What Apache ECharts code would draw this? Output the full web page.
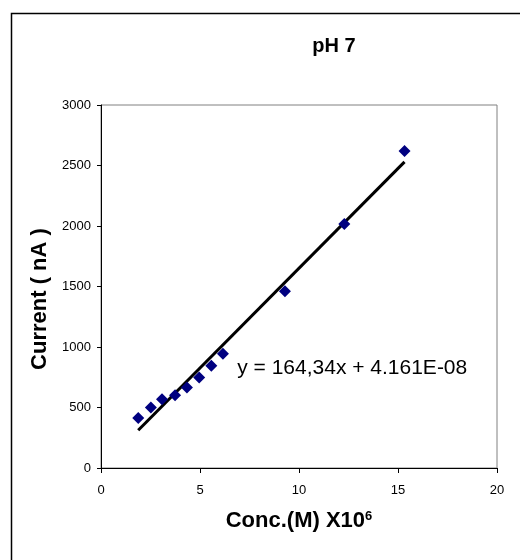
<!DOCTYPE html>
<html>
<head>
<meta charset="utf-8">
<script src="https://cdn.jsdelivr.net/npm/echarts@6/dist/echarts.min.js"></script>
<style>
  html, body { margin: 0; padding: 0; background: #fff; }
  #chart { width: 520px; height: 560px; }
</style>
</head>
<body>
<div id="chart"></div>
<script>
// concentration (M x10^6) and measured current (nA)
var concValues = [1.88, 2.52, 3.08, 3.74, 4.34, 4.96, 5.57, 6.16, 9.29, 12.29, 15.33];
var currentValues = [414, 500, 569, 602, 665, 748, 845, 944, 1460, 2017, 2619];
// linear trend line ends
var trendX = [1.88, 15.33];
var trendY = [312, 2530];
var eqText = 'y = 164,34x + 4.161E-08';
var eqPos = [6.88, 825];
var xTicks = [0, 20, 5];
var yTicks = [0, 3000, 500];

var FONT = '"Liberation Sans", Arial, Helvetica, sans-serif';

var points = concValues.map(function(x, i) { return [x, currentValues[i]]; });
var trend = trendX.map(function(x, i) { return [x, trendY[i]]; });

var chart = echarts.init(document.getElementById('chart'));
chart.setOption({
  animation: false,
  backgroundColor: '#fff',
  graphic: [
    {
      type: 'rect',
      shape: { x: 11.5, y: 13.5, width: 600, height: 600 },
      style: { fill: 'none', stroke: '#000', lineWidth: 1.5 },
      silent: true
    },
    {
      type: 'text',
      x: 334,
      y: 46,
      style: {
        text: 'pH 7',
        align: 'center',
        verticalAlign: 'middle',
        font: 'bold 20px ' + FONT,
        fill: '#000'
      }
    }
  ],
  grid: {
    left: 101,
    right: 23,
    top: 105,
    bottom: 92,
    show: true,
    borderColor: '#808080',
    borderWidth: 1
  },
  xAxis: {
    type: 'value',
    min: xTicks[0],
    max: xTicks[1],
    interval: xTicks[2],
    splitLine: { show: false },
    axisLine: { lineStyle: { color: '#000', width: 1 } },
    axisTick: { show: true, length: 5, lineStyle: { color: '#000' } },
    axisLabel: { color: '#000', fontSize: 13, fontFamily: FONT, margin: 16 },
    name: '{a|Conc.(M) X10}{b|6}',
    nameLocation: 'middle',
    nameGap: 42,
    nameTextStyle: {
      rich: {
        a: { fontSize: 22, fontWeight: 'bold', fontFamily: FONT, color: '#000' },
        b: { fontSize: 13, fontWeight: 'bold', fontFamily: FONT, color: '#000', verticalAlign: 'top', padding: [0, 0, 8, 0] }
      }
    }
  },
  yAxis: {
    type: 'value',
    min: yTicks[0],
    max: yTicks[1],
    interval: yTicks[2],
    splitLine: { show: false },
    axisLine: { show: true, lineStyle: { color: '#000', width: 1 } },
    axisTick: { show: true, length: 4, lineStyle: { color: '#000' } },
    axisLabel: {
      color: '#000', fontSize: 13, fontFamily: FONT, margin: 10,
      formatter: function(v) { return String(v); }
    },
    name: 'Current ( nA )',
    nameLocation: 'middle',
    nameGap: 40,
    nameTextStyle: {
      fontSize: 22,
      fontWeight: 'bold',
      fontFamily: FONT,
      color: '#000',
      padding: [0, 25, 0, 0]
    }
  },
  series: [
    {
      type: 'line',
      data: trend,
      symbol: 'none',
      lineStyle: { color: '#000', width: 3 },
      z: 2
    },
    {
      type: 'scatter',
      data: points,
      symbol: 'diamond',
      symbolSize: 12,
      itemStyle: { color: '#000080', opacity: 1 },
      z: 3
    },
    {
      type: 'scatter',
      data: [eqPos],
      symbolSize: 0,
      silent: true,
      itemStyle: { opacity: 1 },
      label: {
        show: true,
        position: 'inside',
        align: 'left',
        verticalAlign: 'middle',
        formatter: function() { return eqText; },
        fontSize: 21,
        fontFamily: FONT,
        color: '#000',
        opacity: 1
      }
    }
  ]
});
</script>
</body>
</html>
